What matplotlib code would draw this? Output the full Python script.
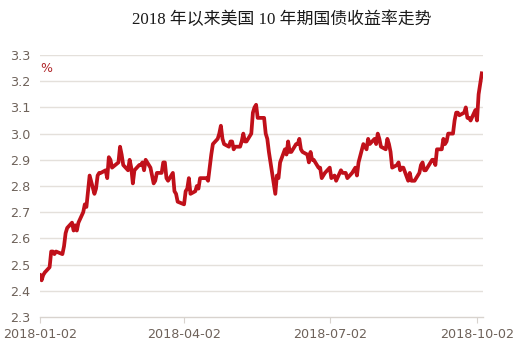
import matplotlib
matplotlib.use('Agg')
import matplotlib.pyplot as plt
import numpy as np
import pandas as pd

# US 10y treasury yield, daily closes, 2018-01-02 .. 2018-10-05
holidays = ['2018-01-15', '2018-02-19', '2018-03-30', '2018-05-28', '2018-07-04', '2018-09-03']
jan = [2.46, 2.44, 2.46, 2.47, 2.49, 2.55, 2.55, 2.54, 2.55, 2.54, 2.57, 2.62, 2.64, 2.66, 2.63, 2.65, 2.63, 2.66, 2.70, 2.73, 2.72]
feb = [2.78, 2.84, 2.77, 2.79, 2.84, 2.85, 2.85, 2.86, 2.83, 2.91, 2.90, 2.87, 2.89, 2.95, 2.92, 2.88, 2.86, 2.90, 2.87]
mar = [2.81, 2.86, 2.88, 2.88, 2.89, 2.86, 2.90, 2.87, 2.84, 2.81, 2.82, 2.85, 2.85, 2.89, 2.89, 2.83, 2.82, 2.85, 2.78, 2.77, 2.74]
apr = [2.73, 2.78, 2.79, 2.83, 2.77, 2.78, 2.80, 2.79, 2.83, 2.83, 2.83, 2.82, 2.87, 2.92, 2.96, 2.98, 3.00, 3.03, 2.98, 2.96, 2.95]
may = [2.97, 2.97, 2.94, 2.95, 2.95, 2.97, 3.00, 2.97, 2.97, 3.00, 3.08, 3.10, 3.11, 3.06, 3.06, 3.06, 3.00, 2.98, 2.93, 2.77, 2.84, 2.83]
jun = [2.89, 2.94, 2.92, 2.97, 2.93, 2.93, 2.96, 2.96, 2.98, 2.94, 2.93, 2.92, 2.89, 2.93, 2.90, 2.90, 2.87, 2.87, 2.83, 2.84, 2.85]
jul = [2.87, 2.83, 2.84, 2.82, 2.86, 2.85, 2.85, 2.85, 2.83, 2.85, 2.86, 2.87, 2.84, 2.89, 2.96, 2.95, 2.94, 2.98, 2.96, 2.98, 2.96]
aug = [3.00, 2.98, 2.95, 2.94, 2.98, 2.96, 2.93, 2.87, 2.88, 2.89, 2.86, 2.87, 2.87, 2.82, 2.85, 2.82, 2.82, 2.82, 2.85, 2.88, 2.89, 2.86, 2.86]
sep = [2.90, 2.90, 2.88, 2.94, 2.94, 2.98, 2.96, 2.97, 3.00, 3.00, 3.05, 3.08, 3.08, 3.07, 3.08, 3.10, 3.06, 3.06, 3.05]
octo = [3.09, 3.05, 3.15, 3.19, 3.23]

yields = jan + feb + mar + apr + may + jun + jul + aug + sep + octo
dates = pd.bdate_range('2018-01-02', '2018-10-05')
dates = dates[~dates.isin(pd.to_datetime(holidays))]

tick_labels = ['2018-01-02', '2018-04-02', '2018-07-02', '2018-10-02']
y_ticks = [2.3, 2.4, 2.5, 2.6, 2.7, 2.8, 2.9, 3.0, 3.1, 3.2, 3.3]

txt_col = '#6e625a'
grid_col = '#e4e0db'

fig = plt.figure(figsize=(5.26, 3.53), dpi=100)
ax = fig.add_axes([40/526, 1-317/353, 443/526, 262/353])

ax.plot(dates, yields, color='#c0101a', lw=2.7, solid_joinstyle='round')

ax.set_ylim(2.3, 3.3)
ax.set_yticks(y_ticks)
ax.set_yticklabels(['%.1f' % v for v in y_ticks])
ax.set_xlim(pd.Timestamp('2018-01-02'), pd.Timestamp('2018-10-05 18:00'))
ax.set_xticks(pd.to_datetime(tick_labels))
ax.set_xticklabels(tick_labels)

for v in y_ticks[1:]:
    ax.axhline(v, color=grid_col, lw=1.0, zorder=0)

for s in ['top', 'right', 'left']:
    ax.spines[s].set_visible(False)
ax.spines['bottom'].set_color('#d8d3ce')
ax.spines['bottom'].set_linewidth(1.0)

ax.tick_params(axis='y', length=0, pad=7, labelsize=9.2, labelcolor=txt_col)
ax.tick_params(axis='x', length=4, width=0.8, color='#d8d3ce', pad=4,
               labelsize=9.2, labelcolor=txt_col)

ax.text(0, 0.95, '%', transform=ax.transAxes, ha='left', va='center',
        fontsize=9, color='#b0262a')

fig.text(282/526, 1-20/353, '2018 年以来美国 10 年期国债收益率走势',
         ha='center', va='center', fontsize=12.2, color='#1a1a1a',
         family=['Liberation Serif', 'Noto Sans CJK SC'], fontweight='medium')

fig.savefig('out.png', dpi=100)
